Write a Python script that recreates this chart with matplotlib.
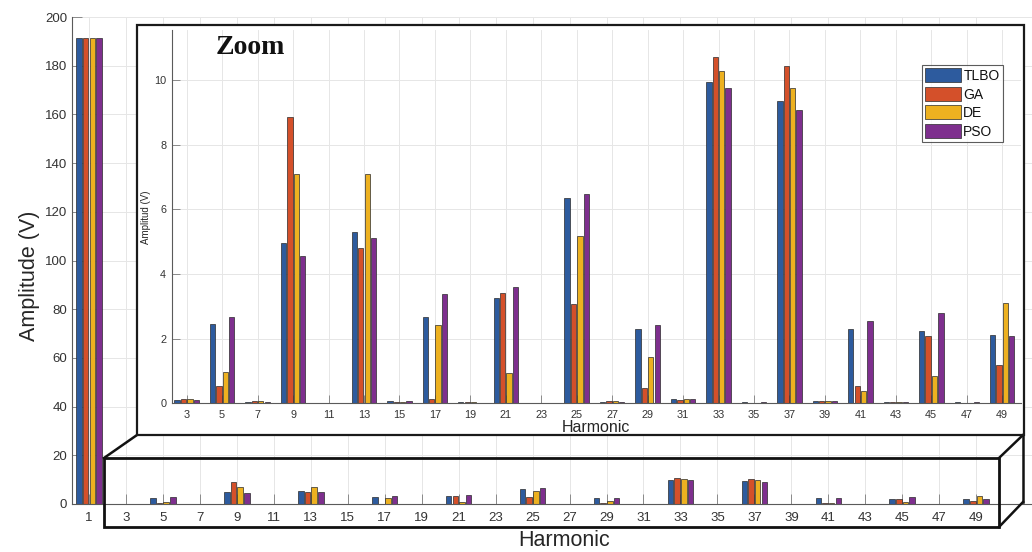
import matplotlib
matplotlib.use("Agg")
import matplotlib.pyplot as plt
from matplotlib.patches import Rectangle
from matplotlib.lines import Line2D
import numpy as np

# Harmonic orders and amplitude spectra (V) for each optimisation method
harmonics = [1, 3, 5, 7, 9, 11, 13, 15, 17, 19, 21, 23, 25,
             27, 29, 31, 33, 35, 37, 39, 41, 43, 45, 47, 49]
tlbo = [191.4, 0.10, 2.45, 0.05, 4.95, 0.02, 5.31, 0.06, 2.68, 0.03, 3.27, 0.02, 6.36,
        0.05, 2.30, 0.13, 9.94, 0.03, 9.34, 0.06, 2.30, 0.03, 2.24, 0.03, 2.10]
ga = [191.4, 0.12, 0.52, 0.06, 8.87, 0.02, 4.81, 0.05, 0.14, 0.04, 3.40, 0.01, 3.07,
      0.07, 0.48, 0.11, 10.72, 0.02, 10.45, 0.08, 0.52, 0.05, 2.08, 0.01, 1.20]
de = [191.4, 0.12, 0.96, 0.06, 7.11, 0.02, 7.11, 0.05, 2.42, 0.03, 0.95, 0.01, 5.19,
      0.08, 1.42, 0.12, 10.29, 0.02, 9.74, 0.07, 0.38, 0.04, 0.85, 0.02, 3.11]
pso = [191.4, 0.10, 2.68, 0.05, 4.56, 0.02, 5.12, 0.06, 3.38, 0.02, 3.61, 0.02, 6.47,
       0.05, 2.41, 0.13, 9.74, 0.03, 9.08, 0.06, 2.54, 0.03, 2.78, 0.04, 2.09]
method_names = ["TLBO", "GA", "DE", "PSO"]
method_colors = ["#2D5B9E", "#D4502A", "#EDB120", "#7E2F8E"]

series = [tlbo, ga, de, pso]

plt.rcParams["font.family"] = ["Liberation Sans", "DejaVu Sans"]

W, H = 1032, 552
fig = plt.figure(figsize=(W / 100, H / 100), dpi=100)
fig.patch.set_facecolor("white")


def fx(x):
    return x / W


def fy(y):
    return 1 - y / H


def axes_rect(left, top, right, bottom):
    return [fx(left), fy(bottom), (right - left) / W, (bottom - top) / H]


SPINE = "#5a5a5a"
GRID = "#e6e6e6"
TXT = "#262626"
offsets = np.array([-0.27, -0.09, 0.09, 0.27])
bar_w = 0.15


def style_axes(ax, tick_len, label_size, xpad, ypad):
    for side in ("top", "right"):
        ax.spines[side].set_visible(False)
    for side in ("left", "bottom"):
        ax.spines[side].set_color(SPINE)
        ax.spines[side].set_linewidth(0.8)
    ax.tick_params(direction="in", length=tick_len, width=0.7, color="#8a8a8a",
                   labelsize=label_size, labelcolor="#333333")
    ax.tick_params(axis="x", pad=xpad)
    ax.tick_params(axis="y", pad=ypad)
    ax.set_axisbelow(True)
    ax.grid(True, color=GRID, linewidth=0.7)


def draw_bars(ax, idx, start):
    for k, vals in enumerate(series):
        ax.bar(idx + offsets[k], vals[start:], width=bar_w,
               color=method_colors[k], edgecolor="#2a2a2a", linewidth=0.5,
               label=method_names[k], zorder=2)


# ---- main spectrum ----
ax = fig.add_axes(axes_rect(72, 17, 1056, 504), zorder=0)
idx_all = np.arange(len(harmonics))
draw_bars(ax, idx_all, 0)
ax.set_xlim(-0.46, 26.16)
ax.set_ylim(0, 200)
ax.set_yticks(np.arange(0, 201, 20))
ax.set_xticks(idx_all)
ax.set_xticklabels([str(h) for h in harmonics])
style_axes(ax, 7, 9.5, 6.0, 3.6)
ax.set_ylabel("Amplitude (V)", fontsize=15.5, color=TXT, va="center")
ax.yaxis.set_label_coords((30 - 72) / 984, (504 - 276) / 487)
ax.set_xlabel("Harmonic", fontsize=15.5, color=TXT, va="center")
ax.xaxis.set_label_coords((564 - 72) / 984, (504 - 541) / 487)

# ---- white panel behind the zoomed view ----
fig.patches.append(Rectangle((fx(137), fy(435)), (1024 - 137) / W, (435 - 25) / H,
                             transform=fig.transFigure, facecolor="white",
                             edgecolor="none", zorder=1))

# ---- zoomed spectrum (harmonics 3..49) ----
axz = fig.add_axes(axes_rect(171.7, 30, 1021, 403.3), zorder=2)
axz.patch.set_alpha(0)
idx_z = np.arange(len(harmonics) - 1)
draw_bars(axz, idx_z, 1)
axz.set_xlim(-0.423, 23.53)
axz.set_ylim(0, 11.55)
axz.set_yticks(np.arange(0, 11, 2))
axz.set_xticks(idx_z)
axz.set_xticklabels([str(h) for h in harmonics[1:]])
style_axes(axz, 5.5, 7.8, 5.0, 4.0)
axz.set_xlabel("Harmonic", fontsize=11.5, color=TXT, va="center")
axz.xaxis.set_label_coords((596 - 171.7) / 849.3, (403.3 - 427) / 373.3)
axz.set_ylabel("Amplitud (V)", fontsize=7, color=TXT, va="center")
axz.yaxis.set_label_coords((146 - 171.7) / 849.3, 0.499)

leg = axz.legend(loc="upper left", bbox_to_anchor=(fx(921.7), fy(65)),
                 bbox_transform=fig.transFigure, borderaxespad=0,
                 fontsize=10, frameon=True, fancybox=False,
                 handlelength=2.6, handleheight=1.15, labelspacing=0.28,
                 handletextpad=0.15, borderpad=0.25)
leg.get_frame().set_edgecolor("#333333")
leg.get_frame().set_linewidth(0.8)
for t in leg.get_texts():
    t.set_color("#111111")

fig.text(fx(216), fy(47), "Zoom", fontsize=20, fontweight="bold",
         family=["Liberation Serif", "DejaVu Serif"], color="#111111",
         ha="left", va="center", zorder=5)

# ---- frame of the zoomed view and its projection onto the axis ----
fig.patches.append(Rectangle((fx(137), fy(435)), (1024 - 137) / W, (435 - 25) / H,
                             transform=fig.transFigure, facecolor="none",
                             edgecolor="#1a1a1a", linewidth=1.6, zorder=4))
fig.patches.append(Rectangle((fx(104), fy(527)), (999 - 104) / W, (527 - 458) / H,
                             transform=fig.transFigure, facecolor="none",
                             edgecolor="#111111", linewidth=2.0, zorder=4))
for (x0, y0), (x1, y1) in [((104, 458), (137, 435)),
                           ((999, 458), (1023, 435)),
                           ((999, 527), (1023, 502)),
                           ((1023, 435), (1023, 502))]:
    fig.lines.append(Line2D([fx(x0), fx(x1)], [fy(y0), fy(y1)],
                            transform=fig.transFigure, color="#111111",
                            linewidth=1.8, zorder=4))

fig.savefig("out.png", dpi=100)
